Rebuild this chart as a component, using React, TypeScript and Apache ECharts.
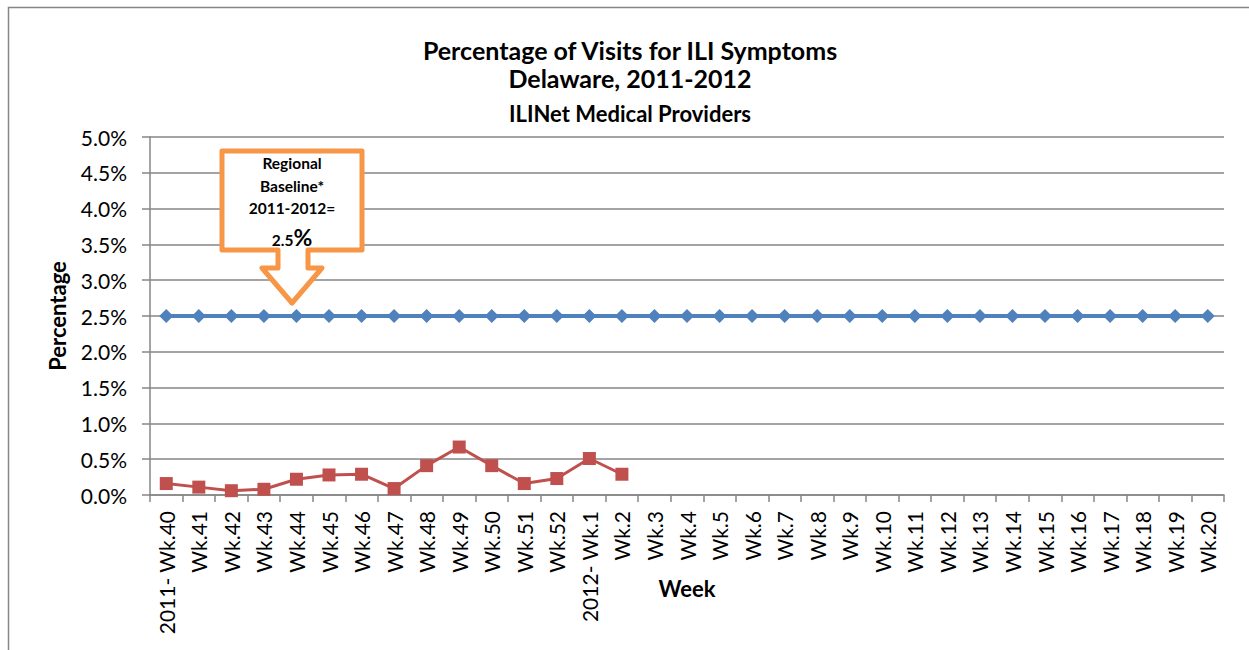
import React, { useEffect, useRef } from "react";
import * as echarts from "echarts";

const weeks: string[] = [
  "2011- Wk.40", "Wk.41", "Wk.42", "Wk.43", "Wk.44", "Wk.45", "Wk.46", "Wk.47", "Wk.48", "Wk.49",
  "Wk.50", "Wk.51", "Wk.52", "2012- Wk.1", "Wk.2", "Wk.3", "Wk.4", "Wk.5", "Wk.6", "Wk.7",
  "Wk.8", "Wk.9", "Wk.10", "Wk.11", "Wk.12", "Wk.13", "Wk.14", "Wk.15", "Wk.16", "Wk.17",
  "Wk.18", "Wk.19", "Wk.20",
];
const baselineValues: number[] = weeks.map(() => 2.5);
const iliValues: number[] = [
  0.16, 0.11, 0.06, 0.08, 0.22, 0.28, 0.29, 0.09, 0.41, 0.67, 0.41, 0.16, 0.23, 0.51, 0.29,
];
const titleLines: string[] = ["Percentage of Visits for ILI Symptoms", "Delaware, 2011-2012", "ILINet Medical Providers"];
const calloutLines: string[] = ["Regional", "Baseline*", "2011-2012="];
const calloutValue = "2.5";

const FONT = "Lato, 'Open Sans', sans-serif";

export default function App() {
  const ref = useRef<HTMLDivElement>(null);
  useEffect(() => {
    if (!ref.current) return;
    const chart = echarts.init(ref.current, null, { renderer: "svg" });
    const boldText = (text: string, x: number, y: number, size: number) => ({
      type: "text",
      x,
      y,
      z: 11,
      style: { text, fontSize: size, fontWeight: "bold", fontFamily: FONT, fill: "#000", align: "center", verticalAlign: "middle" },
    });
    chart.setOption({
      animation: false,
      backgroundColor: "#ffffff",
      textStyle: { fontFamily: FONT },
      grid: { left: 150, right: 25, top: 137, bottom: 155, containLabel: false },
      xAxis: {
        type: "category",
        data: weeks,
        boundaryGap: true,
        name: "Week",
        nameLocation: "middle",
        nameGap: 82,
        nameMoveOverlap: false,
        nameTextStyle: { fontSize: 22, fontWeight: "bold", color: "#000", fontFamily: FONT },
        axisLine: { lineStyle: { color: "#868686", width: 1.5 } },
        axisTick: { show: true, alignWithLabel: false, length: 7, lineStyle: { color: "#868686", width: 1.5 } },
        axisLabel: { rotate: 90, interval: 0, fontSize: 21, color: "#000", margin: 16, fontFamily: FONT },
        splitLine: { show: false },
      },
      yAxis: {
        type: "value",
        min: 0,
        max: 5,
        interval: 0.5,
        name: "Percentage",
        nameLocation: "middle",
        nameRotate: 90,
        nameGap: 82,
        nameMoveOverlap: false,
        nameTextStyle: { fontSize: 22, fontWeight: "bold", color: "#000", fontFamily: FONT },
        axisLine: { show: true, lineStyle: { color: "#868686", width: 1.5 } },
        axisTick: { show: true, inside: false, length: 8, lineStyle: { color: "#868686", width: 1.5 } },
        axisLabel: { fontSize: 21, color: "#000", margin: 23, formatter: (v: number) => v.toFixed(1) + "%", fontFamily: FONT },
        splitLine: { show: true, lineStyle: { color: "#868686", width: 1.5 } },
      },
      series: [
        {
          type: "line",
          name: "Baseline",
          data: baselineValues,
          symbol: "diamond",
          symbolSize: 14,
          lineStyle: { color: "#4F81BD", width: 4 },
          itemStyle: { color: "#4F81BD" },
          z: 3,
        },
        {
          type: "line",
          name: "ILI",
          data: iliValues,
          symbol: "rect",
          symbolSize: 13,
          lineStyle: { color: "#C0504D", width: 3 },
          itemStyle: { color: "#C0504D" },
          z: 4,
        },
      ],
      graphic: [
        {
          type: "rect",
          shape: { x: 8.5, y: 7.5, width: 1400, height: 800 },
          style: { fill: "none", stroke: "#868686", lineWidth: 1.5 },
          silent: true,
          z: -1,
        },
        boldText(titleLines[0], 630, 50, 25),
        boldText(titleLines[1], 630, 78, 25),
        boldText(titleLines[2], 630, 113, 22),
        {
          type: "polygon",
          shape: {
            points: [
              [222, 151], [362, 151], [362, 250], [308, 250], [308, 268], [322, 268],
              [292, 303], [262, 268], [278, 268], [278, 250], [222, 250],
            ],
          },
          style: { fill: "#ffffff", stroke: "#F79646", lineWidth: 5, lineJoin: "round" },
          z: 10,
        },
        boldText(calloutLines[0], 292, 163, 15.5),
        boldText(calloutLines[1], 292, 186, 15.5),
        boldText(calloutLines[2], 292, 208, 15.5),
        {
          type: "text",
          x: 292,
          y: 248,
          z: 11,
          style: {
            text: "{s|" + calloutValue + "}{b|%}",
            fontFamily: FONT,
            fontWeight: "bold",
            fill: "#000",
            align: "center",
            verticalAlign: "bottom",
            rich: {
              s: { fontSize: 15.5, fontWeight: "bold", fontFamily: FONT, fill: "#000", verticalAlign: "bottom", lineHeight: 22 },
              b: { fontSize: 23, fontWeight: "bold", fontFamily: FONT, fill: "#000", verticalAlign: "bottom", lineHeight: 22 },
            },
          },
        },
      ],
    });
    return () => chart.dispose();
  }, []);
  return <div ref={ref} style={{ position: "fixed", left: 0, top: 0, width: 1249, height: 650 }} />;
}
